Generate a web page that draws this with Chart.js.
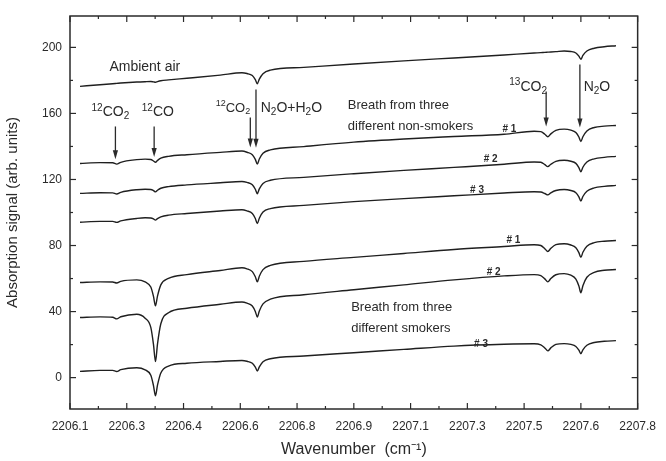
<!DOCTYPE html>
<html>
<head>
<meta charset="utf-8">
<script src="https://cdn.jsdelivr.net/npm/chart.js@4.4.1/dist/chart.umd.min.js"></script>
<style>
html, body { margin: 0; padding: 0; background: #fff; }
#wrap { width: 666px; height: 461px; }
</style>
</head>
<body>
<div id="wrap"><canvas id="grafico"></canvas></div>
<script>
// Wavenumber grid (cm-1), shared by all spectra
const wavenumbers = [2206.13, 2206.19, 2206.228, 2206.240, 2206.252, 2206.30, 2206.325, 2206.342, 2206.350, 2206.356,
    2206.362, 2206.372, 2206.395, 2206.45, 2206.55, 2206.615, 2206.630, 2206.646, 2206.655, 2206.661,
    2206.667, 2206.678, 2206.70, 2206.80, 2206.95, 2207.10, 2207.25, 2207.40, 2207.49, 2207.510,
    2207.522, 2207.531, 2207.540, 2207.555, 2207.58, 2207.600, 2207.615, 2207.624, 2207.630, 2207.636,
    2207.648, 2207.67, 2207.70, 2207.735];

// Absorption signal (arb. units)
const ambientAir = [176.4, 177.4, 178.0, 178.2, 178.4, 179.0, 179.2, 179.3, 179.1, 178.9,
    179.3, 179.8, 180.3, 181.3, 183.2, 184.6, 184.15, 182.95, 180.5, 178.0,
    180.8, 184.1, 186.2, 187.9, 189.9, 191.8, 193.6, 195.4, 196.6, 196.8,
    197.0, 197.1, 197.2, 197.4, 197.8, 197.5, 196.6, 194.7, 192.8, 195.1,
    197.8, 199.5, 200.4, 201.0];
const nonSmoker1 = [129.7, 130.2, 130.1, 129.3, 130.4, 132.0, 132.3, 132.1, 131.2, 130.4,
    131.5, 132.9, 134.0, 135.0, 136.4, 137.2, 136.5, 135.0, 132.2, 129.3,
    132.4, 135.9, 137.9, 139.9, 142.6, 144.5, 146.0, 147.4, 149.2, 149.0,
    147.4, 145.9, 147.6, 149.7, 150.5, 149.9, 148.4, 145.7, 143.0, 145.9,
    149.4, 151.5, 152.3, 152.7];
const nonSmoker2 = [111.6, 112.0, 111.9, 111.2, 112.2, 113.8, 114.05, 113.95, 113.3, 112.5,
    113.5, 114.7, 115.7, 116.7, 118.0, 118.8, 118.2, 116.8, 114.1, 111.4,
    114.3, 117.6, 119.5, 121.3, 123.5, 125.5, 127.3, 129.2, 130.6, 130.4,
    129.0, 127.8, 129.2, 131.0, 131.6, 131.05, 129.75, 127.2, 124.7, 127.4,
    130.6, 132.5, 133.4, 134.0];
const nonSmoker3 = [94.1, 94.6, 94.6, 94.0, 94.9, 96.4, 96.8, 96.65, 96.1, 95.4,
    96.3, 97.35, 98.4, 99.4, 100.9, 101.7, 101.0, 99.4, 96.35, 93.3,
    96.55, 100.25, 102.35, 104.3, 106.6, 108.4, 110.1, 111.8, 112.6, 112.4,
    111.5, 110.7, 111.9, 113.3, 113.9, 113.3, 112.0, 109.5, 106.9, 109.7,
    112.9, 114.9, 115.8, 116.4];
const smoker1 = [57.6, 58.0, 57.9, 57.3, 58.3, 59.2, 57.95, 54.85, 49.2, 43.5,
    49.4, 56.2, 60.1, 62.4, 64.9, 66.5, 65.9, 64.2, 61.1, 58.0,
    61.4, 65.4, 67.95, 70.4, 72.8, 75.2, 77.6, 79.4, 80.5, 80.0,
    78.1, 76.4, 78.3, 80.5, 81.1, 80.3, 78.7, 75.7, 72.8, 75.9,
    79.55, 81.75, 82.6, 83.0];
const smoker2 = [36.4, 36.8, 36.55, 35.6, 36.85, 38.4, 36.0, 30.4, 20.1, 9.7,
    20.3, 32.6, 39.3, 42.0, 44.4, 45.8, 45.1, 43.4, 40.1, 36.7,
    40.4, 44.7, 47.5, 50.2, 53.2, 56.2, 59.2, 61.6, 62.4, 61.8,
    59.8, 58.0, 60.0, 62.3, 63.0, 62.0, 59.7, 55.5, 51.4, 55.7,
    60.8, 63.8, 65.0, 65.5];
const smoker3 = [3.8, 4.4, 4.4, 3.7, 4.8, 6.0, 4.7, 1.4, -4.8, -11.0,
    -4.6, 2.8, 7.0, 8.7, 9.8, 10.4, 9.9, 8.7, 6.35, 4.0,
    6.55, 9.65, 11.45, 13.1, 15.1, 17.1, 19.1, 20.2, 20.5, 19.9,
    18.0, 16.2, 18.0, 20.1, 20.6, 20.1, 18.9, 16.6, 14.5, 16.8,
    19.6, 21.3, 22.0, 22.4];

// Axis ticks
const xTickValues = [2206.1, 2206.27, 2206.44, 2206.61, 2206.78, 2206.95, 2207.12, 2207.29, 2207.46, 2207.63, 2207.8];
const xTickLabels = ["2206.1", "2206.3", "2206.4", "2206.6", "2206.8", "2206.9", "2207.1", "2207.3", "2207.5", "2207.6", "2207.8"];
const yTickValues = [0, 40, 80, 120, 160, 200];
const yMinorTicks = [20, 60, 100, 140, 180];

// Labels on the plot: [text, mode] parts, at (wavenumber, signal)
const textLabels = [
    { parts: [["Ambient air", ""]], x: 2206.324, y: 188.0, size: 14 },
    { parts: [["12", "sup"], ["CO", ""], ["2", "sub"]], x: 2206.221, y: 160.6, size: 14 },
    { parts: [["12", "sup"], ["CO", ""]], x: 2206.363, y: 160.6, size: 14 },
    { parts: [["12", "sup"], ["CO", ""], ["2", "sub"]], x: 2206.588, y: 163.3, size: 13 },
    { parts: [["N", ""], ["2", "sub"], ["O+H", ""], ["2", "sub"], ["O", ""]], x: 2206.763, y: 163.3, size: 14 },
    { parts: [["Breath from three", ""]], x: 2206.932, y: 164.8, size: 13, align: "left" },
    { parts: [["different non-smokers", ""]], x: 2206.932, y: 152.1, size: 13, align: "left" },
    { parts: [["13", "sup"], ["CO", ""], ["2", "sub"]], x: 2207.472, y: 176.1, size: 14 },
    { parts: [["N", ""], ["2", "sub"], ["O", ""]], x: 2207.678, y: 176.1, size: 14 },
    { parts: [["Breath from three", ""]], x: 2206.942, y: 42.6, size: 13, align: "left" },
    { parts: [["different smokers", ""]], x: 2206.942, y: 29.7, size: 13, align: "left" },
    { parts: [["# 1", ""]], x: 2207.416, y: 150.7, size: 10, bold: true },
    { parts: [["# 2", ""]], x: 2207.360, y: 132.1, size: 10, bold: true },
    { parts: [["# 3", ""]], x: 2207.319, y: 113.5, size: 10, bold: true },
    { parts: [["# 1", ""]], x: 2207.428, y: 83.2, size: 10, bold: true },
    { parts: [["# 2", ""]], x: 2207.369, y: 64.0, size: 10, bold: true },
    { parts: [["# 3", ""]], x: 2207.331, y: 20.4, size: 10, bold: true }
];

// Arrows: wavenumber, from signal, to signal (tip)
const arrows = [
    { x: 2206.236, from: 152.1, to: 132.3 },
    { x: 2206.352, from: 152.1, to: 133.6 },
    { x: 2206.640, from: 157.6, to: 139.4 },
    { x: 2206.657, from: 174.5, to: 139.2 },
    { x: 2207.526, from: 173.3, to: 152.1 },
    { x: 2207.627, from: 189.7, to: 151.5 }
];

const FONT = "'Liberation Sans', Arial, sans-serif";
const INK = "#2a2a2a";

function desenharTexto(ctx, label, px, py) {
    const base = label.size;
    const small = Math.round(base * 0.68);
    const weight = label.bold ? "bold " : "";
    let total = 0;
    const pecas = label.parts.map(([t, mode]) => {
        const size = mode ? small : base;
        ctx.font = weight + size + "px " + FONT;
        const w = ctx.measureText(t).width;
        total += w;
        return { t, mode, size, w };
    });
    let cx = label.align === "left" ? px : px - total / 2;
    pecas.forEach(p => {
        ctx.font = weight + p.size + "px " + FONT;
        let dy = 0;
        if (p.mode === "sup") dy = -base * 0.32;
        if (p.mode === "sub") dy = base * 0.3;
        ctx.fillText(p.t, cx, py + dy);
        cx += p.w;
    });
}

const moldura = {
    id: "moldura",
    afterDatasetsDraw(chart) {
        const { ctx, chartArea: a, scales: { x, y } } = chart;
        ctx.save();
        ctx.strokeStyle = INK;
        ctx.lineWidth = 1.5;
        ctx.strokeRect(a.left, a.top, a.right - a.left, a.bottom - a.top);

        ctx.lineWidth = 1.2;
        const linha = (x1, y1, x2, y2) => {
            ctx.beginPath(); ctx.moveTo(x1, y1); ctx.lineTo(x2, y2); ctx.stroke();
        };
        // inward ticks, all four sides
        xTickValues.forEach((v, i) => {
            const px = x.getPixelForValue(v);
            linha(px, a.bottom, px, a.bottom - 6);
            linha(px, a.top, px, a.top + 6);
            if (i < xTickValues.length - 1) {
                const m = x.getPixelForValue((v + xTickValues[i + 1]) / 2);
                linha(m, a.bottom, m, a.bottom - 3);
                linha(m, a.top, m, a.top + 3);
            }
        });
        yTickValues.forEach(v => {
            const py = y.getPixelForValue(v);
            linha(a.left, py, a.left + 6, py);
            linha(a.right, py, a.right - 6, py);
        });
        yMinorTicks.forEach(v => {
            const py = y.getPixelForValue(v);
            linha(a.left, py, a.left + 3, py);
            linha(a.right, py, a.right - 3, py);
        });

        // arrows
        ctx.lineWidth = 1.3;
        ctx.fillStyle = INK;
        arrows.forEach(s => {
            const px = x.getPixelForValue(s.x);
            const y1 = y.getPixelForValue(s.from);
            const y2 = y.getPixelForValue(s.to);
            linha(px, y1, px, y2 - 8);
            ctx.beginPath();
            ctx.moveTo(px, y2);
            ctx.lineTo(px - 2.6, y2 - 9);
            ctx.lineTo(px + 2.6, y2 - 9);
            ctx.closePath();
            ctx.fill();
        });

        // text
        ctx.fillStyle = INK;
        ctx.textBaseline = "middle";
        ctx.textAlign = "left";
        textLabels.forEach(l => desenharTexto(ctx, l, x.getPixelForValue(l.x), y.getPixelForValue(l.y)));
        ctx.restore();
    }
};

function serie(valores) {
    return {
        data: wavenumbers.map((w, i) => ({ x: w, y: valores[i] })),
        borderColor: "#1f1f1f",
        borderWidth: 1.4,
        pointRadius: 0,
        fill: false,
        cubicInterpolationMode: "monotone"
    };
}

document.addEventListener("DOMContentLoaded", () => {
    const ctx = document.getElementById("grafico").getContext("2d");
    new Chart(ctx, {
        type: "line",
        data: {
            datasets: [ambientAir, nonSmoker1, nonSmoker2, nonSmoker3, smoker1, smoker2, smoker3].map(serie)
        },
        options: {
            responsive: true,
            maintainAspectRatio: false,
            animation: false,
            layout: { padding: { top: 16, right: 20, left: 0, bottom: 0 } },
            plugins: { legend: { display: false }, tooltip: { enabled: false } },
            scales: {
                x: {
                    type: "linear",
                    min: 2206.1,
                    max: 2207.8,
                    afterBuildTicks: s => { s.ticks = xTickValues.map(v => ({ value: v })); },
                    afterFit: s => { s.height = 52; },
                    grid: { display: false, drawTicks: false },
                    border: { display: false },
                    ticks: {
                        callback: (v, i) => xTickLabels[i],
                        autoSkip: false,
                        maxRotation: 0,
                        padding: 10,
                        color: INK,
                        font: { family: FONT, size: 12 }
                    },
                    title: {
                        display: true,
                        text: "Wavenumber  (cm\u207B\u00B9)",
                        color: INK,
                        font: { family: FONT, size: 16 },
                        padding: { top: 0, bottom: 2 }
                    }
                },
                y: {
                    min: -19,
                    max: 219,
                    afterBuildTicks: s => { s.ticks = yTickValues.map(v => ({ value: v })); },
                    afterFit: s => { s.width = 70; },
                    grid: { display: false, drawTicks: false },
                    border: { display: false },
                    ticks: {
                        padding: 8,
                        color: INK,
                        font: { family: FONT, size: 12 }
                    },
                    title: {
                        display: true,
                        text: "Absorption signal (arb. units)",
                        color: INK,
                        font: { family: FONT, size: 15 },
                        padding: { top: 4, bottom: 0 }
                    }
                }
            }
        },
        plugins: [moldura]
    });
});
</script>
</body>
</html>
